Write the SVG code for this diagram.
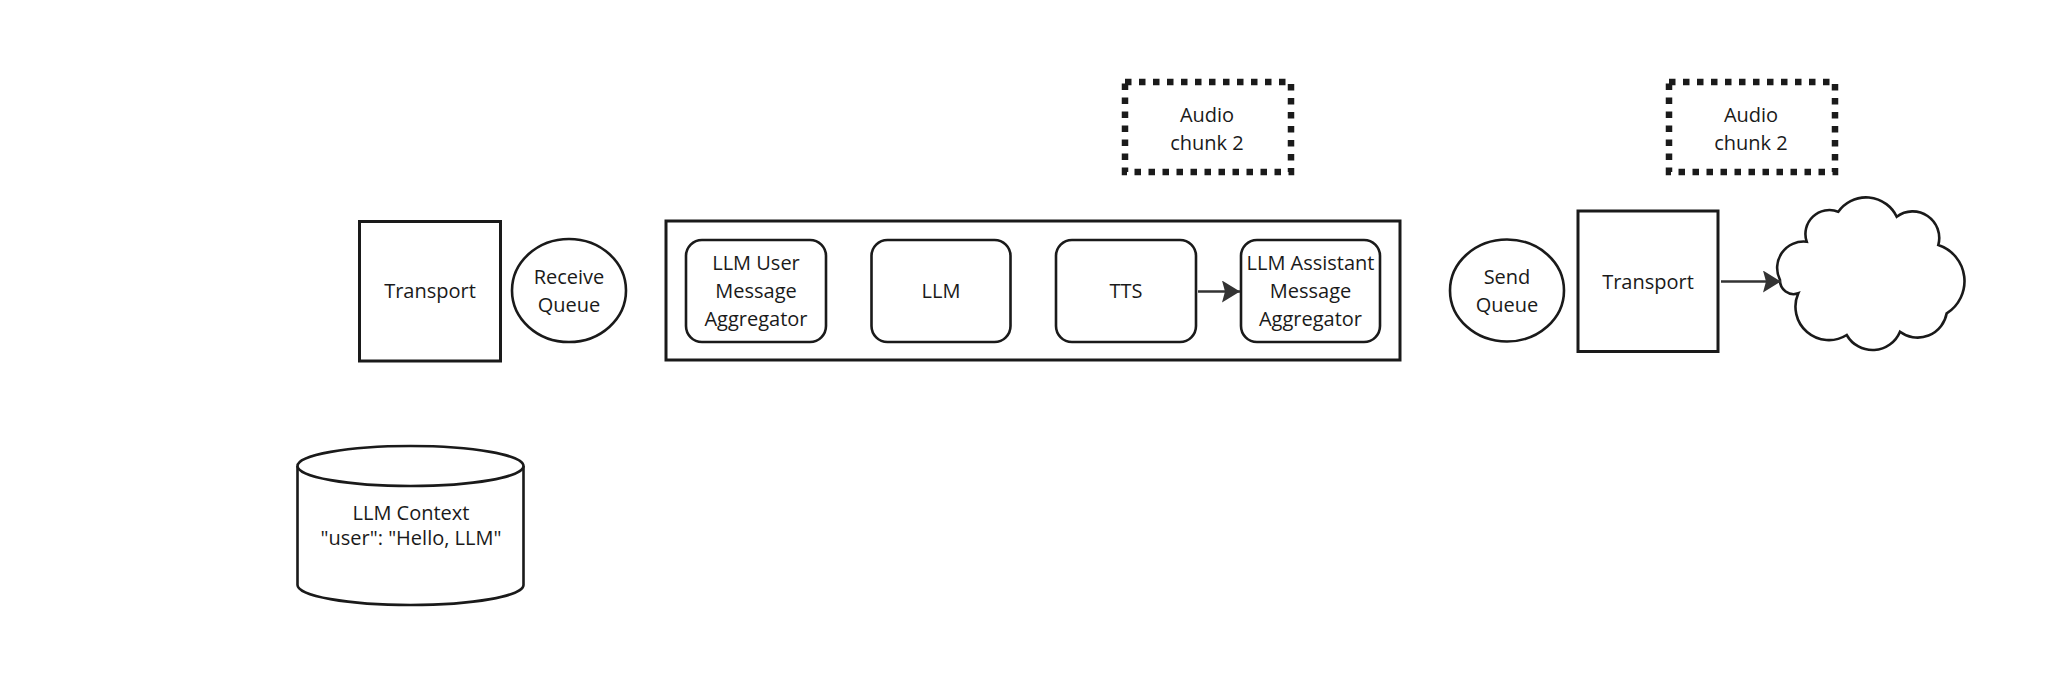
<svg xmlns="http://www.w3.org/2000/svg" width="2048" height="683" viewBox="0 0 2048 683">
  <defs>
    <style>
      .shape { fill: #ffffff; stroke: #1a1a1a; stroke-width: 2.6; }
      .thick { fill: #ffffff; stroke: #1a1a1a; stroke-width: 3; }
      .dotted { fill: none; stroke: #1a1a1a; stroke-width: 6.5; stroke-dasharray: 6.5 7.5; }
      .label { font-family: "Open Sans", "Noto Sans", "Liberation Sans", sans-serif; font-size: 20px; fill: #1a1a1a; text-anchor: middle; }
      .conn { stroke: #333333; stroke-width: 2.6; fill: none; }
    </style>
    <marker id="arrow" markerUnits="userSpaceOnUse" markerWidth="20" markerHeight="24" refX="18" refY="11" orient="auto">
      <path d="M0,0 L18,11 L0,22 L3,11 Z" fill="#333333"/>
    </marker>
  </defs>
  <rect width="2048" height="683" fill="#ffffff"/>

  <g id="transport-in">
    <rect class="thick" x="359.5" y="221.5" width="141" height="139.5"/>
    <text class="label" x="430" y="298">Transport</text>
  </g>

  <g id="receive-queue">
    <ellipse class="shape" cx="569" cy="290.5" rx="57" ry="51.5"/>
    <text class="label" x="569" y="284">Receive</text>
    <text class="label" x="569" y="312">Queue</text>
  </g>

  <g id="pipeline">
    <rect class="thick" x="666" y="221" width="734" height="139"/>
  </g>

  <g id="user-aggregator">
    <rect class="shape" x="686" y="240" width="140" height="102" rx="16"/>
    <text class="label" x="756" y="270">LLM User</text>
    <text class="label" x="756" y="298">Message</text>
    <text class="label" x="756" y="326">Aggregator</text>
  </g>

  <g id="llm">
    <rect class="shape" x="871.5" y="240" width="139" height="102" rx="16"/>
    <text class="label" x="941" y="298">LLM</text>
  </g>

  <g id="tts">
    <rect class="shape" x="1056" y="240" width="140" height="102" rx="16"/>
    <text class="label" x="1126" y="298">TTS</text>
  </g>

  <g id="assistant-aggregator">
    <rect class="shape" x="1241" y="240" width="139" height="102" rx="16"/>
    <text class="label" x="1310.5" y="270">LLM Assistant</text>
    <text class="label" x="1310.5" y="298">Message</text>
    <text class="label" x="1310.5" y="326">Aggregator</text>
  </g>

  <g id="send-queue">
    <ellipse class="shape" cx="1507" cy="290.5" rx="57" ry="51"/>
    <text class="label" x="1507" y="284">Send</text>
    <text class="label" x="1507" y="312">Queue</text>
  </g>

  <g id="transport-out">
    <rect class="thick" x="1578" y="211" width="140" height="140.5"/>
    <text class="label" x="1648" y="288.5">Transport</text>
  </g>

  <g id="cloud">
    <path class="shape" d="M1780,280 A26.5,26.5 0 0 1 1806.7,241.7 A24,24 0 0 1 1838.3,211.7 A34,34 0 0 1 1896.7,216.7 A26.6,26.6 0 0 1 1938.3,245 A38,38 0 0 1 1946.7,313.3 A29.5,29.5 0 0 1 1900,331.7 A29.7,29.7 0 0 1 1846.7,335 A33.4,33.4 0 0 1 1798.3,293.3 A13.7,13.7 0 0 1 1780,280 Z"/>
  </g>

  <g id="audio-chunk-a">
    <rect class="dotted" x="1125" y="82" width="166" height="90"/>
    <text class="label" x="1207" y="122">Audio</text>
    <text class="label" x="1207" y="150">chunk 2</text>
  </g>

  <g id="audio-chunk-b">
    <rect class="dotted" x="1669" y="82" width="166" height="90"/>
    <text class="label" x="1751" y="122">Audio</text>
    <text class="label" x="1751" y="150">chunk 2</text>
  </g>

  <g id="llm-context">
    <path class="shape" d="M297.5,466 L297.5,585 A113,20 0 0 0 523.5,585 L523.5,466"/>
    <ellipse class="shape" cx="410.5" cy="466" rx="113" ry="20"/>
    <text class="label" x="411" y="520">LLM Context</text>
    <text class="label" x="411" y="545">"user": "Hello, LLM"</text>
  </g>

  <g id="connectors">
    <line class="conn" x1="1198" y1="291.5" x2="1240" y2="291.5" marker-end="url(#arrow)"/>
    <line class="conn" x1="1721" y1="281.5" x2="1781" y2="281.5" marker-end="url(#arrow)"/>
  </g>
</svg>
